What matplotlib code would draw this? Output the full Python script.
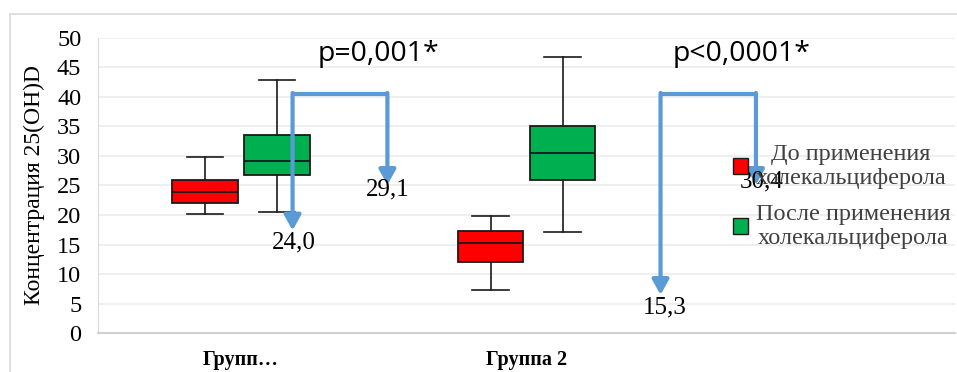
import matplotlib.pyplot as plt
from matplotlib.patches import Rectangle, Patch

# box statistics: min, q1, median, q3, max
groups = ["Групп…", "Группа 2"]
before_stats = [
    (20.1, 22.1, 23.9, 25.9, 29.8),
    (7.3, 12.1, 15.35, 17.3, 19.85),
]
after_stats = [
    (20.6, 26.7, 29.2, 33.5, 42.9),
    (17.1, 25.9, 30.5, 35.0, 46.8),
]
series_labels = ["До применения\nхолекальциферола", "После применения\nхолекальциферола"]
series_colors = ["#ff0000", "#00b050"]

# hand drawn connector arrows (data coords): x_left, x_right, y_top, tip_left, tip_right
connectors = [
    (0.181, 0.513, 40.4, 17.4, 25.1),
    (1.469, 1.803, 40.4, 6.5, 25.1),
]
median_labels = [("24,0", 0.185, 15.4), ("29,1", 0.514, 24.3),
                 ("15,3", 1.483, 4.4), ("30,4", 1.822, 25.6)]
p_labels = [("p=0,001*", 0.483, 47.3), ("p<0,0001*", 1.752, 47.3)]

serif = "Liberation Serif"
arrow_col = "#5b9bd5"

fig = plt.figure(figsize=(9.57, 3.72), dpi=100)
fig.patches.append(Rectangle((10 / 957, -0.1), 1.2, 1.1 - 14 / 372,
                             transform=fig.transFigure, fill=False,
                             edgecolor="#d9d9d9", linewidth=1.2))
ax = fig.add_axes([0.1024, 0.104, 0.8956, 0.7947])

offset = 0.126
width = 0.23
for stats_list, shift, col in [(before_stats, -offset, series_colors[0]),
                                (after_stats, offset, series_colors[1])]:
    bxp_stats = []
    for s in stats_list:
        bxp_stats.append({"whislo": s[0], "q1": s[1], "med": s[2],
                          "q3": s[3], "whishi": s[4], "fliers": []})
    pos = [i + shift for i in range(len(stats_list))]
    ax.bxp(bxp_stats, positions=pos, widths=width, patch_artist=True,
           showfliers=False,
           boxprops=dict(facecolor=col, edgecolor="#1a1a1a", linewidth=1.3),
           medianprops=dict(color="#1a1a1a", linewidth=1.3),
           whiskerprops=dict(color="#1a1a1a", linewidth=1.2),
           capprops=dict(color="#1a1a1a", linewidth=1.2),
           capwidths=width * 0.55, zorder=3)

for xl, xr, yt, tl, tr in connectors:
    ax.plot([xl, xr], [yt, yt], color=arrow_col, lw=3, solid_capstyle="butt", zorder=4)
    for x, tip in [(xl, tl), (xr, tr)]:
        ax.annotate("", xy=(x, tip), xytext=(x, yt + 0.25),
                    arrowprops=dict(arrowstyle="-|>,head_length=0.9,head_width=0.5",
                                    color=arrow_col, lw=3, shrinkA=0, shrinkB=0),
                    zorder=4)

for txt, x, y in median_labels:
    ax.text(x, y, txt, ha="center", va="center", fontsize=18, family=serif,
            color="black", zorder=5)
for txt, x, y in p_labels:
    ax.text(x, y, txt, ha="center", va="center", fontsize=20.5, family="Open Sans",
            color="black", zorder=5)

ax.set_xlim(-0.5, 2.5)
ax.set_ylim(0, 50)
ax.set_yticks(range(0, 51, 5))
ax.set_xticks(range(len(groups)))
ax.set_xticklabels(groups, family=serif, fontweight="bold", fontsize=14.5)
for lab in ax.get_yticklabels():
    lab.set_family(serif)
    lab.set_fontsize(17.5)
ax.tick_params(axis="both", length=0)
ax.tick_params(axis="y", pad=12)
ax.tick_params(axis="x", pad=12)
ax.yaxis.grid(True, color="#ececec", linewidth=1.2)
ax.set_axisbelow(True)
for side in ["top", "right"]:
    ax.spines[side].set_visible(False)
ax.spines["left"].set_color("#d9d9d9")
ax.spines["bottom"].set_color("#d0d0d0")
ax.spines["bottom"].set_linewidth(1.5)
ax.set_ylabel("Концентрация 25(OH)D", family=serif, fontsize=17)
ax.yaxis.set_label_coords(-0.062, 0.502)

handles = [Patch(facecolor=c, edgecolor="#1a1a1a", linewidth=1) for c in series_colors]
leg = ax.legend(handles, series_labels, loc="upper left",
                bbox_to_anchor=(0.715, 0.715), frameon=False,
                prop={"family": serif, "size": 17.5}, handlelength=0.65,
                handleheight=0.65, handletextpad=0.3, labelspacing=0.62,
                labelcolor="#404040")
for t in leg.get_texts():
    t.set_multialignment("center")
leg.set_zorder(6)

fig.savefig("out.png", dpi=100)
